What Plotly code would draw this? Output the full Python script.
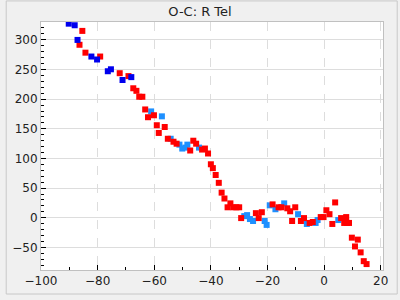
import plotly.graph_objects as go

# Dark blue series
blue_x = [-90.2, -88.1, -87.1, -82.2, -80.2, -76.4, -75.3, -71.2, -68.1]
blue_y = [327.2, 324.5, 299.8, 271.8, 266.8, 247.0, 250.3, 232.2, 237.1]

# Light blue series
lblue_x = [-61.1, -57.3, -54.2, -51.1, -50.1, -49.0, -48.3, -44.2, -28.2, -27.2,
           -26.2, -25.1, -21.0, -20.3, -19.2, -17.2, -14.1, -9.2, -6.1, -3.0,
           -2.3, 5.0]
lblue_y = [179.3, 171.0, 133.2, 123.3, 116.7, 118.3, 123.3, 118.3, 2.8, 4.5,
           -2.1, -5.4, -5.4, -12.0, 21.0, 14.4, 24.3, 6.1, -10.4, -8.7,
           -3.8, -3.8]

# Red series
red_x = [-85.4, -86.4, -84.3, -79.1, -72.2, -69.1, -67.4, -66.3, -65.3, -64.2,
         -63.2, -62.2, -60.1, -59.1, -58.4, -56.3, -55.2, -53.2, -52.1, -47.3,
         -46.2, -45.2, -43.1, -42.1, -41.0, -40.0, -39.3, -38.3, -37.2, -36.2,
         -35.2, -33.1, -34.1, -32.1, -31.0, -30.0, -29.3, -24.1, -23.1, -22.0,
         -18.2, -16.1, -15.1, -13.0, -12.0, -10.2, -11.3, -8.2, -7.1, -5.1,
         -4.0, -1.2, -0.2, 0.8, 1.9, 2.9, 3.9, 6.0, 7.8, 7.1,
         8.1, 8.8, 9.8, 11.9, 10.9, 12.9, 14.0, 15.0]
red_y = [315.0, 291.6, 278.3, 271.8, 243.7, 238.8, 218.3, 214.0, 204.0, 204.0,
         182.6, 169.5, 172.8, 156.0, 143.0, 153.0, 133.2, 128.2, 124.9, 113.4,
         129.9, 124.9, 115.0, 116.7, 108.4, 90.2, 83.7, 72.1, 58.9, 42.4,
         32.5, 24.3, 17.7, 17.7, 17.7, 17.7, -0.5, 7.8, -0.5, 9.4,
         22.6, 17.7, 17.7, 16.0, 11.0, 17.7, -5.4, -5.4, -0.5, -8.7,
         -7.1, 1.2, 1.2, 12.7, 6.1, -10.4, 25.9, -0.5, 1.2, -8.7,
         -8.7, -8.7, -33.5, -36.8, -48.3, -58.3, -73.1, -78.0]

title_text = "O-C: R Tel"

fig = go.Figure()
mk = dict(symbol="square", size=6, line=dict(width=0))
fig.add_trace(go.Scatter(x=lblue_x, y=lblue_y, mode="markers",
                         marker=dict(color="#1e90ff", **mk)))
fig.add_trace(go.Scatter(x=red_x, y=red_y, mode="markers",
                         marker=dict(color="#ff0000", **mk)))
fig.add_trace(go.Scatter(x=blue_x, y=blue_y, mode="markers",
                         marker=dict(color="#0000ee", **mk)))

L, R, T, B = 36, 15, 22, 25
W, H = 400, 300
pw = W - L - R
ph = H - T - B

axis_common = dict(
    showline=True, linecolor="#c0c0c0", linewidth=1, mirror=True,
    ticks="inside", tickcolor="#000000", ticklen=5,
    gridcolor="#dddddd", gridwidth=1, zeroline=False,
    tickfont=dict(family="DejaVu Sans", size=12, color="#222222"),
)

fig.update_layout(
    width=W, height=H,
    margin=dict(l=L, r=R, t=T, b=B),
    paper_bgcolor="#f0f0f0", plot_bgcolor="#ffffff",
    showlegend=False,
    title=dict(text=title_text, x=0.5, xanchor="center", y=1 - 11 / H, yanchor="middle",
               font=dict(family="DejaVu Sans", size=13, color="#222222")),
    xaxis=dict(range=[-100, 20.8], dtick=20, tick0=0, griddash="dash",
               minor=dict(ticks="inside", dtick=10, ticklen=3, tickcolor="#000000", showgrid=False),
               **axis_common),
    yaxis=dict(range=[-88, 330], dtick=50, tick0=0,
               minor=dict(ticks="inside", dtick=10, ticklen=3, tickcolor="#000000", showgrid=False),
               **axis_common),
    shapes=[dict(type="rect", xref="paper", yref="paper",
                 x0=-(L - 0.5) / pw, x1=(W - L - 0.5) / pw,
                 y0=-(B - 0.5) / ph, y1=(H - B - 0.5) / ph,
                 line=dict(color="#c8c8c8", width=1), layer="below")],
)

fig.write_html("out.html")
